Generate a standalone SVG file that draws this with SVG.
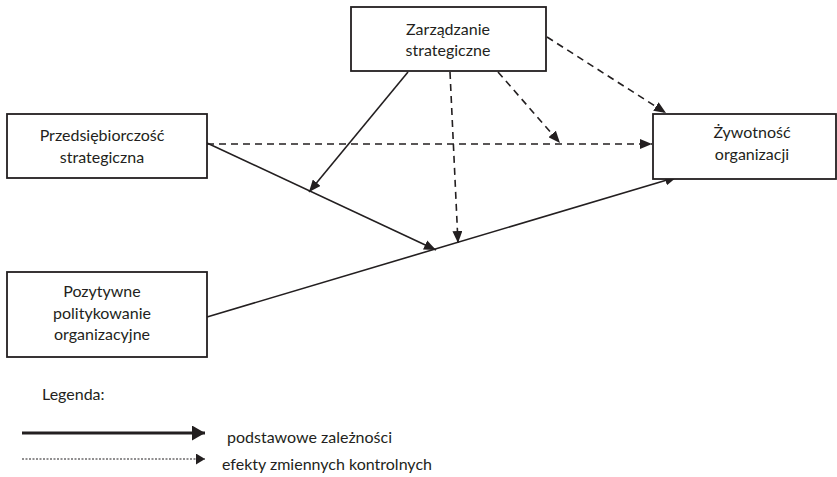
<svg xmlns="http://www.w3.org/2000/svg" width="837" height="477" viewBox="0 0 837 477">
<style>
.box{fill:#fff;stroke:#231f20;stroke-width:1.8}
.t{font-family:Lato,"Open Sans",sans-serif;font-size:16px;fill:#231f20;text-anchor:middle}
.l{font-family:Lato,"Open Sans",sans-serif;font-size:16px;fill:#231f20}
.s{stroke:#231f20;stroke-width:1.6;fill:none}
.d{stroke:#231f20;stroke-width:1.6;fill:none;stroke-dasharray:7 5}
</style>
<defs>
<marker id="ah" viewBox="0 0 12 10" refX="12" refY="5" markerWidth="12" markerHeight="10" markerUnits="userSpaceOnUse" orient="auto">
<path d="M0,0 L12,5 L0,10 Z" fill="#231f20"/>
</marker>
<marker id="ahl" viewBox="0 0 13 15" refX="13" refY="7.5" markerWidth="13" markerHeight="15" markerUnits="userSpaceOnUse" orient="auto">
<path d="M0,0 L13,7.5 L0,15 Z" fill="#231f20"/>
</marker>
<marker id="ahd" viewBox="0 0 9 11" refX="9" refY="5.5" markerWidth="9" markerHeight="11" markerUnits="userSpaceOnUse" orient="auto">
<path d="M0,0 L9,5.5 L0,11 Z" fill="#231f20"/>
</marker>
</defs>
<g id="connectors">
<line class="d" x1="207" y1="144" x2="652" y2="144" marker-end="url(#ah)"/>
<line class="s" x1="207" y1="143" x2="436" y2="250" marker-end="url(#ah)"/>
<line class="s" x1="207" y1="317" x2="677" y2="177" marker-end="url(#ah)"/>
<line class="s" x1="408" y1="72" x2="309" y2="192" marker-end="url(#ah)"/>
<line class="d" x1="450" y1="72" x2="458" y2="243" marker-end="url(#ah)"/>
<line class="d" x1="498" y1="72" x2="560" y2="143" marker-end="url(#ah)"/>
<line class="d" x1="547" y1="37" x2="666" y2="113" marker-end="url(#ah)"/>
</g>
<g id="zarzadzanie">
<rect class="box" x="351" y="7" width="195" height="64"/>
<text class="t" x="448" y="35">Zarządzanie</text>
<text class="t" x="448" y="56">strategiczne</text>
</g>
<g id="przedsiebiorczosc">
<rect class="box" x="7" y="114" width="200" height="64"/>
<text class="t" x="102" y="141">Przedsiębiorczość</text>
<text class="t" x="102" y="163">strategiczna</text>
</g>
<g id="pozytywne">
<rect class="box" x="7" y="272" width="200" height="85"/>
<text class="t" x="102" y="297">Pozytywne</text>
<text class="t" x="102" y="319">politykowanie</text>
<text class="t" x="102" y="340">organizacyjne</text>
</g>
<g id="zywotnosc">
<rect class="box" x="653" y="114" width="183" height="65"/>
<text class="t" x="752" y="138">Żywotność</text>
<text class="t" x="752" y="160">organizacji</text>
</g>
<g id="legend">
<text class="l" x="42" y="400">Legenda:</text>
<line x1="22" y1="433" x2="205" y2="433" stroke="#231f20" stroke-width="3" marker-end="url(#ahl)"/>
<text class="l" x="227" y="443">podstawowe zależności</text>
<line x1="22" y1="459" x2="205" y2="459" stroke="#231f20" stroke-width="1.2" stroke-dasharray="2 1.5" marker-end="url(#ahd)"/>
<text class="l" x="222" y="470">efekty zmiennych kontrolnych</text>
</g>
</svg>
